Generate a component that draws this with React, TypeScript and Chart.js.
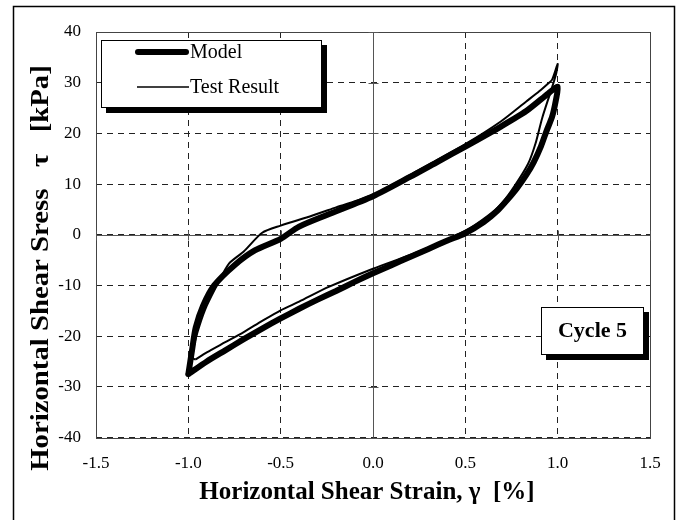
import React, { useEffect, useRef } from "react";
import { Chart, registerables } from "chart.js";

Chart.register(...registerables);

// ---- data ----
const xTickValues = [-1.5, -1.0, -0.5, 0.0, 0.5, 1.0, 1.5];
const yTickValues = [-40, -30, -20, -10, 0, 10, 20, 30, 40];

const modelStrain = [
  -1.0, -0.9, -0.8, -0.7, -0.6, -0.5, -0.4, -0.3, -0.2, -0.1, 0.0, 0.1, 0.2, 0.3, 0.4, 0.5, 0.6, 0.67, 0.73,
  0.78, 0.83, 0.87, 0.91, 0.94, 0.97, 0.99, 1.0, 0.95, 0.83, 0.69, 0.5, 0.35, 0.2, 0.0, -0.25, -0.4, -0.5,
  -0.64, -0.75, -0.86, -0.92, -0.96, -0.98, -1.0,
];
const modelStress = [
  -27.5, -25.0, -22.8, -20.6, -18.5, -16.5, -14.6, -12.8, -11.1, -9.3, -7.6, -6.0, -4.4, -2.8, -1.2, 0.3, 2.5,
  4.6, 7.0, 9.2, 11.8, 14.3, 17.5, 20.5, 23.3, 26.5, 29.2, 27.9, 24.4, 21.3, 17.4, 14.4, 11.4, 7.6, 3.9, 1.6,
  -0.8, -3.1, -6.0, -10.0, -14.0, -18.3, -22.8, -27.5,
];

const testStrain = [
  -0.96, -0.9, -0.8, -0.7, -0.6, -0.5, -0.4, -0.24, 0.0, 0.25, 0.5, 0.62, 0.7, 0.77, 0.84, 0.88, 0.916, 0.96,
  0.99, 1.0, 0.97, 0.95, 0.9, 0.83, 0.69, 0.5, 0.25, 0.0, -0.2, -0.36, -0.5, -0.6, -0.7, -0.78, -0.84, -0.9,
  -0.94, -0.97, -0.975, -0.96,
];
const testStress = [
  -24.6, -23.2, -21.2, -19.2, -17.0, -14.9, -13.2, -10.3, -6.7, -3.3, 0.8, 3.7, 6.3, 9.8, 14.0, 18.0, 23.0, 28.0,
  31.5, 33.7, 30.6, 29.9, 28.3, 26.3, 22.3, 17.9, 12.8, 7.9, 5.4, 3.4, 1.8, 0.4, -3.3, -5.7, -9.6, -14.0, -18.0,
  -22.0, -24.4, -24.6,
];

const seriesNames = ["Model", "Test Result"];
const cycleLabel = "Cycle 5";
const xTitle = "Horizontal Shear Strain, γ  [%]";
const yTitle = "Horizontal Shear Sress   τ   [kPa]";

const SERIF = '"Liberation Serif", "Times New Roman", serif';

const decorPlugin = {
  id: "decor",
  beforeDraw(chart: any) {
    const ctx = chart.ctx;
    ctx.save();
    ctx.fillStyle = "#fff";
    ctx.fillRect(0, 0, chart.width, chart.height);
    // outer frame
    ctx.strokeStyle = "#000";
    ctx.lineWidth = 1.5;
    ctx.beginPath();
    ctx.moveTo(13.5, 520);
    ctx.lineTo(13.5, 6.5);
    ctx.lineTo(674.5, 6.5);
    ctx.lineTo(674.5, 520);
    ctx.stroke();
    ctx.restore();
  },
  beforeDatasetsDraw(chart: any) {
    const ctx = chart.ctx;
    const { left, right, top, bottom } = chart.chartArea;
    const xs = chart.scales.x;
    const ys = chart.scales.y;
    ctx.save();
    // plot border
    ctx.strokeStyle = "#444";
    ctx.lineWidth = 1;
    ctx.strokeRect(Math.round(left) + 0.5, Math.round(top) + 0.5, Math.round(right - left), Math.round(bottom - top));
    // axes crossing at origin
    const x0 = Math.round(xs.getPixelForValue(0)) + 0.5;
    const y0 = Math.round(ys.getPixelForValue(0)) + 0.5;
    ctx.strokeStyle = "#555";
    ctx.beginPath();
    ctx.moveTo(x0, top);
    ctx.lineTo(x0, bottom);
    ctx.moveTo(left, y0);
    ctx.lineTo(right, y0);
    yTickValues.forEach((v) => {
      const py = Math.round(ys.getPixelForValue(v)) + 0.5;
      ctx.moveTo(x0 - 5, py);
      ctx.lineTo(x0 + 5, py);
    });
    xTickValues.forEach((v) => {
      const px = Math.round(xs.getPixelForValue(v)) + 0.5;
      ctx.moveTo(px, y0 - 5);
      ctx.lineTo(px, y0 + 5);
    });
    ctx.stroke();
    ctx.restore();
  },
  afterDraw(chart: any) {
    const ctx = chart.ctx;
    ctx.save();
    // legend box with shadow
    ctx.fillStyle = "#000";
    ctx.fillRect(106, 45, 221, 68);
    ctx.fillStyle = "#fff";
    ctx.fillRect(101, 40, 221, 68);
    ctx.strokeStyle = "#000";
    ctx.lineWidth = 1;
    ctx.strokeRect(101.5, 40.5, 220, 67);
    ctx.lineCap = "round";
    ctx.lineWidth = 6;
    ctx.beginPath();
    ctx.moveTo(138, 52);
    ctx.lineTo(186, 52);
    ctx.stroke();
    ctx.lineCap = "butt";
    ctx.lineWidth = 1.5;
    ctx.beginPath();
    ctx.moveTo(137, 87);
    ctx.lineTo(189, 87);
    ctx.stroke();
    ctx.fillStyle = "#000";
    ctx.font = `20px ${SERIF}`;
    ctx.textAlign = "left";
    ctx.textBaseline = "middle";
    ctx.fillText(seriesNames[0], 190, 53);
    ctx.fillText(seriesNames[1], 190, 88);

    // cycle box
    ctx.fillStyle = "#000";
    ctx.fillRect(546, 312, 103, 48);
    ctx.fillStyle = "#fff";
    ctx.fillRect(541, 307, 103, 48);
    ctx.strokeStyle = "#000";
    ctx.lineWidth = 1;
    ctx.strokeRect(541.5, 307.5, 102, 47);
    ctx.fillStyle = "#000";
    ctx.font = `bold 22px ${SERIF}`;
    ctx.textAlign = "center";
    ctx.fillText(cycleLabel, 592.5, 331);

    // axis titles
    ctx.font = `bold 25px ${SERIF}`;
    ctx.fillText(xTitle, 367, 493);
    ctx.translate(42, 268);
    ctx.rotate(-Math.PI / 2);
    ctx.scale(1.15, 1);
    ctx.fillText(yTitle, 0, 0);
    ctx.restore();
  },
};

export default function App() {
  const ref = useRef<HTMLCanvasElement | null>(null);
  useEffect(() => {
    if (!ref.current) return;
    const tickFont = { family: SERIF, size: 17 };
    const chart = new Chart(ref.current, {
      type: "scatter",
      data: {
        datasets: [
          {
            label: seriesNames[0],
            data: modelStrain.map((x, i) => ({ x, y: modelStress[i] })),
            showLine: true,
            borderColor: "#000",
            backgroundColor: "#000",
            borderWidth: 6,
            pointRadius: 0,
            tension: 0.25,
            borderCapStyle: "round",
            borderJoinStyle: "round",
          },
          {
            label: seriesNames[1],
            data: testStrain.map((x, i) => ({ x, y: testStress[i] })),
            showLine: true,
            borderColor: "#000",
            backgroundColor: "#000",
            borderWidth: 2,
            pointRadius: 0,
            tension: 0.25,
            borderJoinStyle: "round",
          },
        ],
      },
      options: {
        responsive: false,
        animation: false,
        devicePixelRatio: 1,
        layout: { padding: { left: 0, top: 32, right: 31, bottom: 0 } },
        plugins: { legend: { display: false }, tooltip: { enabled: false } },
        scales: {
          x: {
            type: "linear",
            min: -1.5,
            max: 1.5,
            afterBuildTicks: (s: any) => {
              s.ticks = xTickValues.map((v) => ({ value: v }));
            },
            afterFit: (s: any) => {
              s.height = 82.5;
            },
            ticks: {
              callback: (v: any) => Number(v).toFixed(1),
              font: tickFont,
              color: "#000",
              padding: 16,
              maxRotation: 0,
            },
            grid: { color: "#222", lineWidth: 1, drawTicks: false },
            border: { display: false, dash: [6, 5] },
          },
          y: {
            type: "linear",
            min: -40,
            max: 40,
            afterBuildTicks: (s: any) => {
              s.ticks = yTickValues.map((v) => ({ value: v }));
            },
            afterFit: (s: any) => {
              s.width = 96;
            },
            ticks: {
              callback: (v: any) => String(v),
              font: tickFont,
              color: "#000",
              padding: 15,
            },
            grid: { color: "#222", lineWidth: 1, drawTicks: false },
            border: { display: false, dash: [6, 5] },
          },
        },
      } as any,
      plugins: [decorPlugin],
    });
    return () => chart.destroy();
  }, []);
  return (
    <div style={{ position: "absolute", left: 0, top: 0, width: 681, height: 520, background: "#fff" }}>
      <canvas ref={ref} width={681} height={520} style={{ display: "block", width: 681, height: 520 }} />
    </div>
  );
}
